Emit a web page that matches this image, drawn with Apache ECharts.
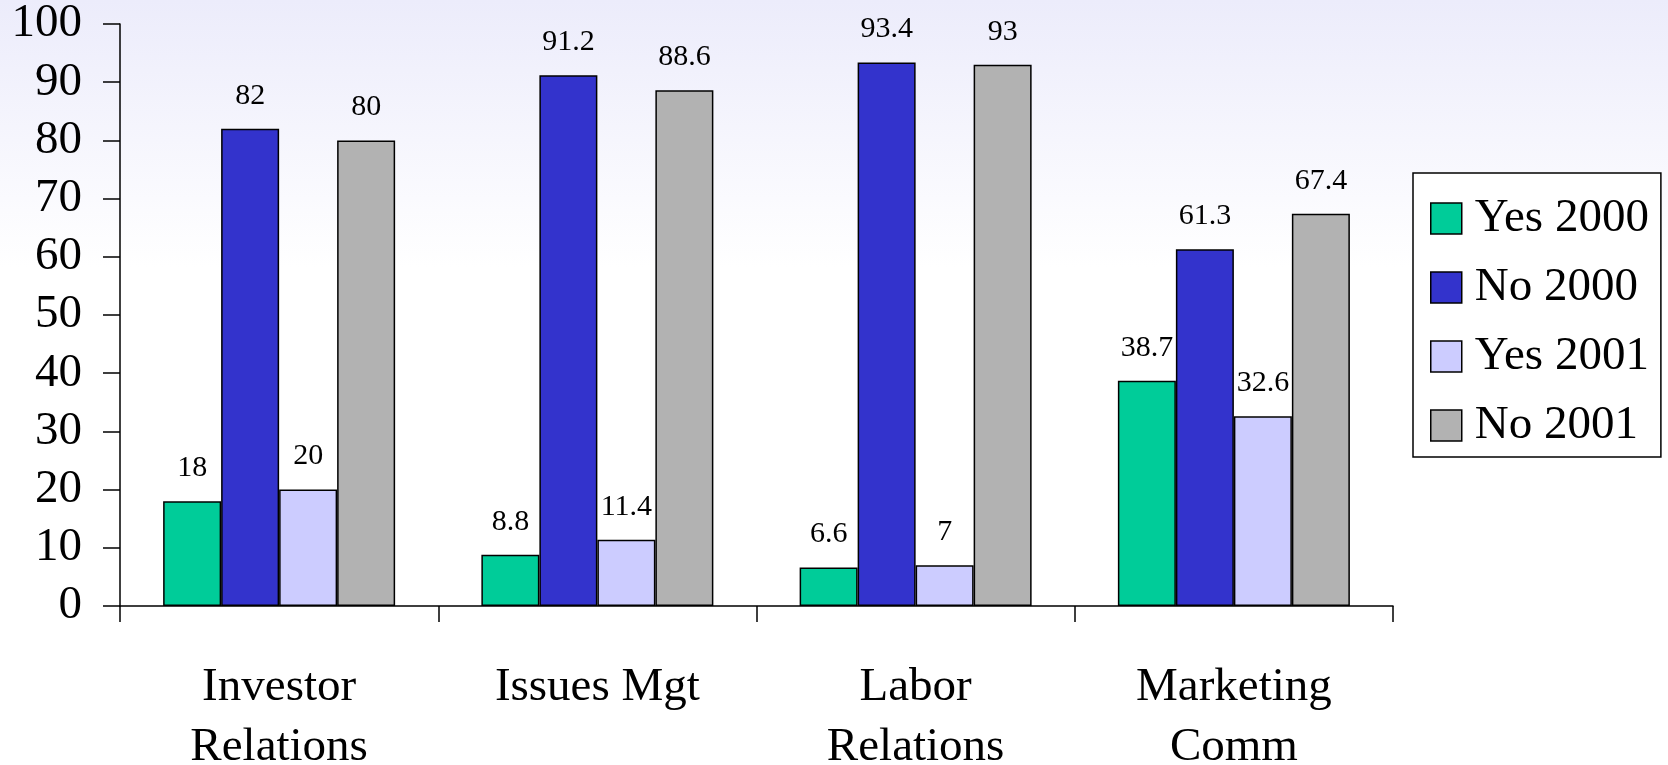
<!DOCTYPE html>
<html>
<head>
<meta charset="utf-8">
<script src="https://cdn.jsdelivr.net/npm/echarts@6/dist/echarts.min.js"></script>
<style>
  html, body { margin: 0; padding: 0; }
  #chart { width: 1668px; height: 765px; }
</style>
</head>
<body>
<div id="chart"></div>
<script>
// Categories and survey results (percent)
const categories = ['Investor\nRelations', 'Issues Mgt', 'Labor\nRelations', 'Marketing\nComm'];
const yes2000 = [18, 8.8, 6.6, 38.7];
const no2000 = [82, 91.2, 93.4, 61.3];
const yes2001 = [20, 11.4, 7, 32.6];
const no2001 = [80, 88.6, 93, 67.4];
const seriesNames = ['Yes 2000', 'No 2000', 'Yes 2001', 'No 2001'];
const seriesColors = ['#00CC99', '#3333CC', '#CCCCFF', '#B2B2B2'];
const seriesData = [yes2000, no2000, yes2001, no2001];

const FONT = '"Liberation Serif", "Times New Roman", serif';

const chart = echarts.init(document.getElementById('chart'), null, { renderer: 'canvas' });

const series = seriesNames.map((name, i) => ({
  name: name,
  type: 'bar',
  data: seriesData[i],
  barWidth: 58,
  barGap: '0%',
  itemStyle: { color: seriesColors[i], borderColor: '#000', borderWidth: 1.5 },
  label: {
    show: true,
    position: 'top',
    distance: 18,
    color: '#000',
    fontFamily: FONT,
    fontSize: 30
  }
}));

chart.setOption({
  animation: false,
  backgroundColor: {
    type: 'linear', x: 0, y: 0, x2: 0, y2: 1,
    colorStops: [
      { offset: 0, color: '#ECECFB' },
      { offset: 0.35, color: '#FFFFFF' },
      { offset: 1, color: '#FFFFFF' }
    ]
  },
  grid: { left: 120, right: 275, top: 24, bottom: 159, containLabel: false, outerBoundsMode: 'none' },
  legend: {
    orient: 'vertical',
    left: 1413,
    top: 173,
    itemWidth: 31,
    itemHeight: 31,
    itemGap: 22,
    padding: [22, 12, 8, 17],
    borderColor: '#000',
    borderWidth: 1.5,
    backgroundColor: '#FFFFFF',
    icon: 'rect',
    itemStyle: { borderColor: '#000', borderWidth: 1.5 },
    textStyle: {
      fontFamily: FONT,
      fontSize: 47,
      color: '#000',
      lineHeight: 31,
      padding: [0, 0, 0, 8]
    },
    data: seriesNames
  },
  xAxis: {
    type: 'category',
    data: categories,
    boundaryGap: true,
    axisLine: { lineStyle: { color: '#000', width: 1.5 } },
    axisTick: { show: true, length: 16, alignWithLabel: false, lineStyle: { color: '#000', width: 1.5 } },
    axisLabel: {
      color: '#000',
      fontFamily: FONT,
      fontSize: 47,
      lineHeight: 60,
      margin: 52,
      interval: 0
    }
  },
  yAxis: {
    type: 'value',
    min: 0,
    max: 100,
    interval: 10,
    splitLine: { show: false },
    axisLine: { show: true, lineStyle: { color: '#000', width: 1.5 } },
    axisTick: { show: true, length: 17, lineStyle: { color: '#000', width: 1.5 } },
    axisLabel: {
      color: '#000',
      fontFamily: FONT,
      fontSize: 47,
      margin: 38
    }
  },
  series: series
});
</script>
</body>
</html>
